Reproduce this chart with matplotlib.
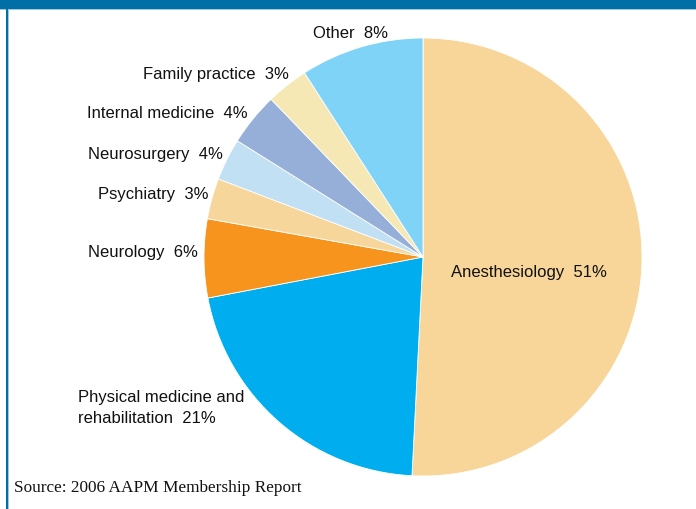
import matplotlib
matplotlib.use("Agg")
import matplotlib.pyplot as plt
from matplotlib.patches import Rectangle

categories = ["Anesthesiology", "Physical medicine and\nrehabilitation", "Neurology",
              "Psychiatry", "Neurosurgery", "Internal medicine", "Family practice", "Other"]
# printed percentages (labels)
label_pct = [51, 21, 6, 3, 4, 4, 3, 8]
# slice shares as drawn in the picture
shares = [50.8, 21.2, 5.8, 3.0, 3.1, 3.9, 3.1, 9.1]
colors = ["#F8D699", "#00AEEF", "#F7941D", "#F6D69B", "#C2E0F3", "#95AFD8", "#F6E8B4", "#7FD3F7"]

# label anchor positions in image pixels (x, y, ha)
label_pos = [(451, 273, "left"), (78, 408, "left"), (198, 252, "right"), (208, 194, "right"),
             (223, 154, "right"), (248, 113, "right"), (289, 75, "right"), (388, 33, "right")]

W, H = 696, 510
fig = plt.figure(figsize=(W / 100, H / 100), dpi=100)
ax = fig.add_axes([0, 0, 1, 1])

cx, cy, r = 423, H - 258, 219
ax.pie(shares, colors=colors, startangle=90, counterclock=False, center=(cx, cy), radius=r,
       wedgeprops=dict(linewidth=0.6, edgecolor="white"), frame=False)
ax.set_xlim(0, W)
ax.set_ylim(0, H)
ax.set_aspect("equal")
ax.axis("off")

for cat, val, (x, y, ha) in zip(categories, label_pct, label_pos):
    ax.text(x, H - y, f"{cat}  {val}%", ha=ha, va="center", fontsize=12,
            family="Liberation Sans", color="#111111", linespacing=1.45)

ax.text(14, H - 488, "Source: 2006 AAPM Membership Report", ha="left", va="center",
        fontsize=12.4, family="Liberation Serif", color="#111111")

# frame: top bar and left line
ax.add_patch(Rectangle((0, H - 10), W, 10, color="#006FA5", lw=0, zorder=5))
ax.add_patch(Rectangle((0, H - 11), W, 1, color="#9FC7DD", lw=0, zorder=5))
ax.add_patch(Rectangle((6, 0), 2.2, H, color="#006FA5", lw=0, zorder=5))
ax.add_patch(Rectangle((8.2, 0), 1, H - 10, color="#9FC7DD", lw=0, zorder=5))

fig.savefig("out.png", dpi=100)
